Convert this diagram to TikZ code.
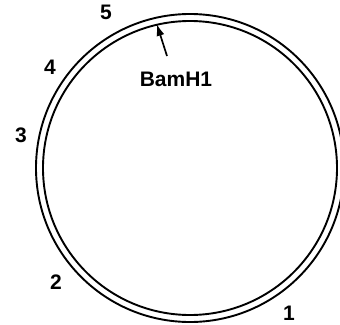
\documentclass[tikz,border=0pt]{standalone}
\usepackage{fontspec}
\setmainfont{Liberation Sans}
\usepackage{tikz}
\usetikzlibrary{arrows.meta}

\begin{document}
\begin{tikzpicture}[
  x=1pt, y=-1pt,
  ring/.style={draw, circle, line width=1.9pt, inner sep=0pt},
  num/.style={font=\fontsize{21}{24}\selectfont\bfseries, inner sep=0pt},
  arr/.style={-{Latex[length=12pt,width=8pt]}, line width=1.7pt}
]
\useasboundingbox (0,0) rectangle (340,324);
\node[ring, minimum size=308pt] (outer) at (190,168) {};
\node[ring, minimum size=294pt] (inner) at (190,168) {};
\node[num] (lbl5) at (106,12) {5};
\node[num] (lbl4) at (50,67) {4};
\node[num] (lbl3) at (21,135) {3};
\node[num] (lbl2) at (56,282) {2};
\node[num] (lbl1) at (289,313) {1};
\node[num] (site) at (176,79) {BamH1};
\coordinate (tail) at (167,56);
\coordinate (cut) at (inner.103.6);
\draw[arr] (tail) -- (cut);
\end{tikzpicture}
\end{document}
